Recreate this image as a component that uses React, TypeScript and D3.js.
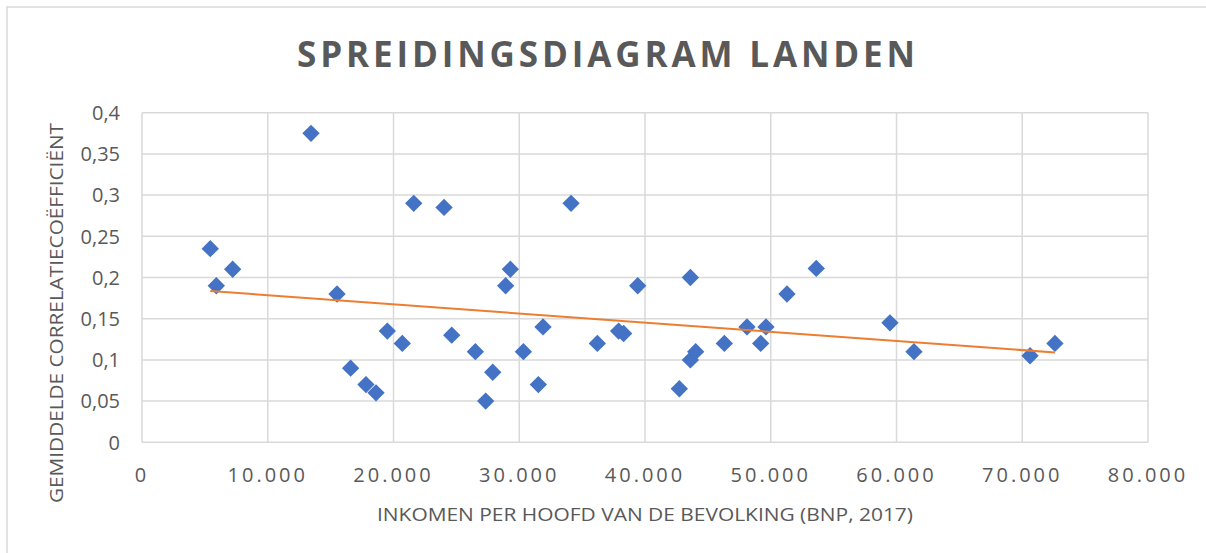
import React from 'react'
import * as d3 from 'd3'

const WIDTH = 1206
const HEIGHT = 553
const LEFT = 142
const RIGHT = 1148
const TOP = 112.7
const BOTTOM = 442.3

// inkomen per hoofd (BNP, 2017)
const income = [
  5430, 7210, 5910, 13440, 15510, 21610, 24020, 19510, 20700, 24630,
  26510, 27890, 27330, 16590, 17810, 18610, 29290, 28920, 30330, 34120,
  31890, 31520, 36210, 37900, 38300, 39420, 43610, 42730, 43610, 44030,
  46310, 48110, 49620, 49200, 51290, 53620, 59480, 61390, 70620, 72600,
]
// gemiddelde correlatiecoëfficiënt
const corr = [
  0.235, 0.21, 0.19, 0.375, 0.18, 0.29, 0.285, 0.135, 0.12, 0.13,
  0.11, 0.085, 0.05, 0.09, 0.07, 0.06, 0.21, 0.19, 0.11, 0.29,
  0.14, 0.07, 0.12, 0.135, 0.132, 0.19, 0.2, 0.065, 0.1, 0.11,
  0.12, 0.14, 0.14, 0.12, 0.18, 0.211, 0.145, 0.11, 0.105, 0.12,
]

const xTicks = [0, 10000, 20000, 30000, 40000, 50000, 60000, 70000, 80000]
const yTicks = [0, 0.05, 0.1, 0.15, 0.2, 0.25, 0.3, 0.35, 0.4]

const TEXT = '#595959'
const GRID = '#D9D9D9'
const FONT = '"Open Sans", sans-serif'

const fmtX = (v: number) => d3.format(',')(v).replace(/,/g, '.')
const fmtY = (v: number) => String(+v.toFixed(2)).replace('.', ',')

const App = () => {
  const xScale = d3.scaleLinear().domain([0, 80000]).range([LEFT, RIGHT])
  const yScale = d3.scaleLinear().domain([0, 0.4]).range([BOTTOM, TOP])

  const points = income.map((x, i) => ({ x, y: corr[i] }))

  // lineaire trendlijn (kleinste kwadraten)
  const mx = d3.mean(points, p => p.x) as number
  const my = d3.mean(points, p => p.y) as number
  const slope = d3.sum(points, p => (p.x - mx) * (p.y - my)) / d3.sum(points, p => (p.x - mx) ** 2)
  const icpt = my - slope * mx
  const [xmin, xmax] = d3.extent(income) as [number, number]
  const trend = [xmin, xmax].map(x => ({ x, y: icpt + slope * x }))
  const trendPath = d3.line<{ x: number, y: number }>()
    .x(d => xScale(d.x))
    .y(d => yScale(d.y))

  const diamond = d3.symbol().type(d3.symbolSquare).size(150)()

  return (
    <svg width={WIDTH} height={HEIGHT} style={{ position: 'absolute', left: 0, top: 0, background: 'white' }}>
      <rect x={7} y={7} width={1220} height={580} fill="white" stroke={GRID} strokeWidth={1.5} />

      <text x={606} y={67} textAnchor="middle" fontFamily={FONT} fontWeight="bold" fontSize={35}
        fill={TEXT} textLength={618} lengthAdjust="spacing">SPREIDINGSDIAGRAM LANDEN</text>

      <g data-grid>
        {yTicks.map(t => (
          <line key={'h' + t} x1={LEFT} x2={RIGHT} y1={yScale(t)} y2={yScale(t)} stroke={GRID} strokeWidth={1.5} />
        ))}
        {xTicks.map(t => (
          <line key={'v' + t} x1={xScale(t)} x2={xScale(t)} y1={TOP} y2={BOTTOM} stroke={GRID} strokeWidth={1.5} />
        ))}
      </g>

      <g data-x-axis fontFamily={FONT} fontSize={20} fill={TEXT}>
        {xTicks.map(t => (
          <text key={t} x={xScale(t)} y={482} textAnchor="middle" letterSpacing={3}>{fmtX(t)}</text>
        ))}
      </g>

      <g data-y-axis fontFamily={FONT} fontSize={20} fill={TEXT}>
        {yTicks.map(t => (
          <text key={t} x={120} y={yScale(t)} dy="0.36em" textAnchor="end">{fmtY(t)}</text>
        ))}
      </g>

      <text x={645} y={521} textAnchor="middle" fontFamily={FONT} fontSize={19} fill={TEXT}
        textLength={536} lengthAdjust="spacingAndGlyphs">INKOMEN PER HOOFD VAN DE BEVOLKING (BNP, 2017)</text>

      <text transform={`translate(63, 313) rotate(-90)`} textAnchor="middle" fontFamily={FONT} fontSize={19} fill={TEXT}
        textLength={380} lengthAdjust="spacingAndGlyphs">GEMIDDELDE CORRELATIECOËFFICIËNT</text>

      <g data-points>
        {points.map((p, i) => (
          <path key={i} d={diamond as string} fill="#4472C4"
            transform={`translate(${xScale(p.x)}, ${yScale(p.y)}) rotate(45)`} />
        ))}
      </g>

      <path d={trendPath(trend) as string} stroke="#ED7D31" strokeWidth={2} fill="none" />
    </svg>
  )
}

export default App
